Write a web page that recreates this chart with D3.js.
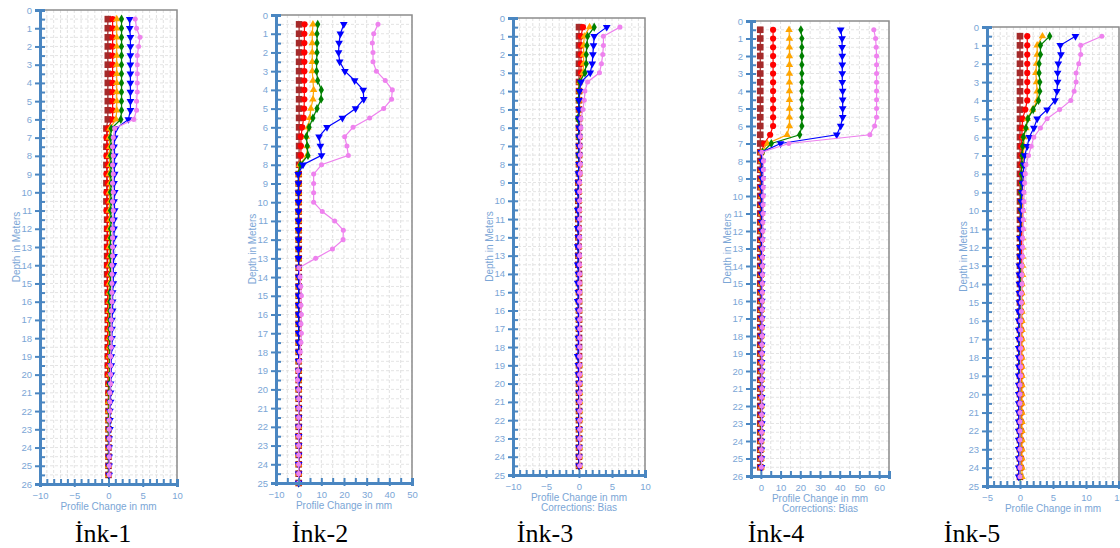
<!DOCTYPE html>
<meta charset="utf-8">
<script src="https://d3js.org/d3.v7.min.js"></script>
<style>
  body { margin: 0; background: #fff; }
  svg text { font-family: "Liberation Sans", Arial, sans-serif; }
</style>
<div id="my_dataviz"></div>
<script>

// depth of each reading (m)
var depths = [0.5,1,1.5,2,2.5,3,3.5,4,4.5,5,5.5,6,6.5,7,7.5,8,8.5,9,9.5,10,10.5,11,11.5,12,12.5,13,13.5,14,14.5,15,15.5,16,16.5,17,17.5,18,18.5,19,19.5,20,20.5,21,21.5,22,22.5,23,23.5,24,24.5,25,25.5];

// Ink-1 profile change (mm)
var ink1Brown = [-0.1,-0.1,-0.1,-0.1,-0.1,-0.1,-0.1,-0.1,-0.1,-0.1,-0.1,-0.1,
  -0.3,-0.2,-0.3,-0.2,-0.3,-0.2,-0.3,-0.2,-0.3,-0.2,-0.2,-0.2,-0.2,-0.2,-0.2,-0.2,-0.2,-0.2,
  -0.1,-0.1,-0.1,-0.1,-0.1,-0.1,-0.1,-0.1,-0.1,-0.1, 0,0,0,0,0,0,0,0,0,0,0];
var ink1Red = [0.6,0.6,0.6,0.6,0.6,0.6,0.6,0.6,0.6,0.6,0.6,0.6,
  -0.1,-0.3,-0.1,-0.3,-0.1,-0.3,-0.1,-0.3,-0.1,-0.3,-0.1,-0.2,-0.1,-0.2,-0.1,-0.2,-0.1,-0.2,
  -0.1,-0.1,-0.1,-0.1,-0.1,-0.1,-0.1,-0.1,-0.1,-0.1, 0,0,0,0,0,0,0,0,0,0,0];
var ink1Orange = [1.2,1.2,1.2,1.2,1.2,1.2,1.2,1.2,1.2,1.2,1.2,1.1,
  0.2,0.1,0.2,0.1,0.2,0.1,0.2,0.1,0.2,0.1,0.2,0.1,0.2,0.1,0.2,0.1,0.2,0.1,
  0.1,0.1,0.1,0.1,0.1,0.1,0.1,0.1,0.1,0.1, 0.1,0.1,0,0,0,0,0,0,0,0,0];
var ink1Green = [1.9,1.9,1.9,1.9,1.9,1.9,1.9,1.9,1.9,1.9,1.9,1.8,
  0.4,0.3,0.4,0.3,0.4,0.3,0.4,0.3,0.4,0.3,0.4,0.3,0.3,0.3,0.3,0.3,0.3,0.3,
  0.2,0.2,0.2,0.2,0.2,0.2,0.2,0.2,0.2,0.2, 0.1,0.1,0.1,0.1,0,0,0,0,0,0,0];
var ink1Blue = [3.1,3.1,3.2,3.2,3.2,3.2,3.2,3.2,3.2,3.2,3.2,2.9,
  1.1,0.9,0.8,0.9,0.8,0.9,0.8,0.9,0.8,0.9,0.8,0.8,0.8,0.7,0.8,0.7,0.7,0.7,
  0.6,0.6,0.6,0.5,0.5,0.5,0.5,0.4,0.4,0.4, 0.3,0.3,0.3,0.2,0.2,0.2,0.1,0.1,0.1,0.1,0.1];
var ink1Violet = [3.9,4.1,4.6,4.4,4.2,4.2,4.2,4.2,4.2,4.1,4.1,3.7,
  0.9,0.7,0.6,0.7,0.6,0.7,0.6,0.7,0.6,0.7,0.6,0.6,0.6,0.6,0.6,0.5,0.5,0.5,
  0.5,0.5,0.4,0.4,0.4,0.4,0.4,0.3,0.3,0.3, 0.3,0.2,0.2,0.2,0.1,0.1,0.1,0.1,0.1,0.1,0.1];

// Ink-2
var ink2Brown = [0.2,0.2,0.2,0.2,0.2,0.2,0.2,0.2,0.2,0.2,0.2,0.2,0.2,0.2,0.2,0.2,
  0,0,0,0,0,0,0,0,0,0, 0,0,0,0,0,0,0,0,0,0, 0,0,0,0,0,0,0,0,0,0, 0,0,0,0];
var ink2Red = [2.6,2.5,2.5,2.5,2.5,2.5,2.5,2.5,2.5,2.4,2.2,1.6,1.0,1.0,1.0,0.5,
  0.1,0.1,0.1,0.1,0.1,0.1,0.1,0.1,0.1,0.1, 0.1,0.1,0.1,0.1,0.1,0.1,0.1,0.1,0.1,0.1,
  0.1,0.1,0.1,0.1,0.1,0.1,0.1,0.1,0.1,0.1, 0.1,0.1,0.1,0.1];
var ink2Orange = [6.3,6.0,6.0,6.0,6.0,6.0,6.3,6.6,6.3,5.4,4.9,4.1,3.4,3.7,3.7,0.4,
  0,0,0,0,0,0,0,0,0,0, 0,0,0,0,0,0,0,0,0,0, 0,0,0,0,0,0,0,0,0,0, 0,0,0,0];
var ink2Green = [8.4,8.1,8.1,8.1,7.9,7.9,8.4,10.0,9.9,8.1,6.3,4.6,3.4,3.8,4.1,0.7,
  -0.1,-0.1,-0.1,-0.1,-0.1,-0.1,-0.1,-0.1,-0.1,-0.1, 0,0,0,0,0,0,0,0,0,0,
  0,0,0,0,0,0,0,0,0,0, 0,0,0,0];
var ink2Blue = [19.9,18.4,17.8,17.6,18.1,20.4,24.7,28.5,28.7,25.1,19.3,12.5,9.0,9.6,10.1,1.9,
  -0.2,-0.1,-0.1,-0.1,-0.1,-0.1,-0.1,-0.1,-0.1,-0.1, 0,0,0,0,0,0,0,0,0,0,
  0,0,0,0,0,0,0,0,0,0, 0,0,0,0];
var ink2Violet = [35.0,33.1,32.5,32.8,32.8,34.3,38.2,41.3,41.0,37.5,31.3,24.0,20.3,21.3,21.9,10.1,
  6.6,6.6,6.6,6.6,10.4,15.9,19.7,19.6,14.9,7.5,0.1,
  0.6,0.9,1.2,1.0,1.2,1.0,1.2,1.0,0.7,0.3, -0.3,-0.5,0,0,0,0,0,0,0,0, 0,0,0];

// Ink-3
var ink3Brown = [0,0,0,0,0,0,0, 0,0,0,0,0,0,0,0,0,0, -0.1,-0.1,-0.1,-0.1,-0.1,-0.1,-0.1,-0.1,-0.1,-0.1,
  0,0,0,0,0,0,0,0,0,0, 0,0,0,0,0,0,0,0,0,0,0,0];
var ink3Red = [0.6,0.3,0.3,0.3,0.3,0.3,0.1, 0,0,0,0,0,0,0,0,0,0, 0,0,0,0,0,0,0,0,0,0,
  0,0,0,0,0,0,0,0,0,0, 0,0,0,0,0,0,0,0,0,0,0,0];
var ink3Orange = [1.6,0.8,0.7,0.7,0.7,0.6,0.1, 0.1,0.1,0.1,0.1,0.1,0.1,0.1,0.1,0.1,0.1, 0,0,0,0,0,0,0,0,0,0,
  0,0,0,0,0,0,0,0,0,0, 0.1,0.1,0.1,0.1,0.1,0.1,0.1,0.1,0.1,0.1,0.1,0.1];
var ink3Green = [2.3,1.3,1.2,1.1,1.1,0.9,0.1, 0,-0.1,0,-0.2,0,-0.1,0,-0.1,0,-0.1, 0,-0.1,0,-0.1,0,-0.1,0,-0.1,0,-0.1,
  0,0,0,0,0,0,0,0,0,0, 0,0,0,0,0,0,0,0,0,0,0,0];
var ink3Blue = [4.2,2.3,2.2,2.1,2.0,1.7,0.3, 0.1,0,0,0,0,0,0,0,0,-0.1, -0.1,-0.2,-0.1,-0.2,-0.1,-0.2,-0.1,-0.2,-0.1,-0.2,
  -0.1,-0.2,-0.1,-0.2,-0.1,-0.1,-0.1,-0.1,-0.1,-0.2, -0.1,-0.1,0,0,0,0,0,0,0,0,0,0];
var ink3Violet = [6.2,3.7,3.7,3.6,3.4,3.1,1.3, 0.9,0.8,0.6,0.3,0.3,0.2,0.2,0.2,0.2,0.2, 0.1,0.1,0.1,0.1,0.1,0.1,0.1,0.1,0.1,0.1,
  0.1,0.1,0.1,0.1,0.1,0.1,0.1,0.1,0.1,0.1, 0.1,0.1,0.1,0.1,0.1,0.1,0.1,0.1,0.1,0.1,0.1,0.1];

// Ink-4
var ink4Brown = [-0.3,-0.3,-0.3,-0.3,-0.3,-0.3,-0.3,-0.3,-0.3,-0.3,-0.3,-0.3,-0.3,-0.3,-0.3,
  -0.3,-0.3,-0.3,-0.3,-0.3,-0.3,-0.3,-0.3,-0.3,-0.3,-0.3,-0.3,-0.3,-0.3,-0.3,-0.3,-0.3,-0.3,
  -0.3,-0.3,-0.3,-0.3,-0.3,-0.3,-0.3,-0.3,-0.3,-0.3,-0.3,-0.3,-0.3,-0.3,-0.3,-0.3,-0.3,-0.3];
var ink4Red = [6.2,6.2,6.2,6.2,6.2,6.2,6.2,6.2,6.2,6.2,6.2,6.2, 4.7,1.7,0.3,
  0.2,0.2,0.2,0.2,0.2,0.2,0.2,0.2,0.2,0.2, 0.2,0.2,0.2,0.2,0.2,0.2,0.2,0.2,0.2,0.2,
  0.2,0.2,0.2,0.2,0.2,0.2,0.2,0.2,0.2,0.2, 0.2,0.2,0.2,0.2,0.2,0.2];
var ink4Orange = [14.3,14.5,14.5,14.5,14.5,14.5,14.5,14.5,14.5,14.5,14.5,14.5, 13.3,3.3,0.3,
  0.4,0.4,0.4,0.4,0.4,0.4,0.4,0.4,0.4,0.4, 0.3,0.3,0.3,0.3,0.3,0.3,0.3,0.3,0.3,0.3,
  0.3,0.3,0.3,0.3,0.3,0.3,0.3,0.3,0.3,0.3, 0.2,0.2,0.2,0.2,0.2,0.2];
var ink4Green = [20.3,20.8,20.8,20.8,20.8,20.8,20.8,20.8,20.8,20.8,20.8,20.8, 19.7,5.3,0.8,
  0.4,0.4,0.4,0.4,0.4,0.4,0.4,0.4,0.4,0.4, 0.3,0.3,0.3,0.3,0.3,0.3,0.3,0.3,0.3,0.3,
  0.3,0.3,0.3,0.3,0.3,0.3,0.3,0.3,0.3,0.3, 0.2,0.2,0.2,0.2,0.2,0.2];
var ink4Blue = [40.5,41.2,41.2,41.3,41.3,41.3,41.3,41.5,41.5,41.5,41.5,40.5, 38.5,10.0,0.3,
  0.6,0.5,0.6,0.5,0.6,0.5,0.6,0.5,0.6,0.5, 0.5,0.4,0.5,0.4,0.5,0.4,0.5,0.4,0.5,0.4,
  0.4,0.4,0.4,0.4,0.4,0.4,0.4,0.4,0.4,0.4, 0.5,0.3,0.3,0.3,0.3,0.3];
var ink4Violet = [57.3,58.2,58.5,58.7,58.7,58.7,58.7,58.7,58.7,58.7,58.7,57.7, 55.3,14.2,0.5,
  1.3,1.3,1.3,1.2,1.2,1.1,1.1,1.0,1.0,0.9, 0.9,0.8,0.8,0.8,0.7,0.7,0.7,0.6,0.6,0.6,
  0.6,0.5,0.5,0.5,0.5,0.5,0.5,0.4,0.4,0.4, 0.4,0.4,0.3,0.3,0.3,0.3];

// Ink-5
var ink5Brown = [0,0,0,0,0,0,0,0,0,0,0,0,0, 0,0,0,0,0,0,0,0,0,0,0,0,
  0,0,0,0,0,0,0,0,0,0,0,0, 0,0,0,0,0,0,0,0,0,0,0,0];
var ink5Red = [1.1,1.1,1.1,1.1,1.1,1.1,1.1,1.1,0.8,0.4,0.3,0.3,0.2,
  0.2,0.2,0.2,0.2,0.2,0.2,0.2,0.2,0.2,0.2,0.2, 0.2,0.2,0.2,0.2,0.2,0.2,0.2,0.2,0.2,0.2,0.2,0.2,
  0.2,0.2,0.2,0.2,0.2,0.2,0.2,0.2,0.2,0.2,0.2,0.2];
var ink5Orange = [3.4,2.6,2.6,2.5,2.4,2.5,2.6,2.6,1.9,1.1,0.9,0.6,0.6,0.5,0.5,0.5,
  0.4,0.4,0.4,0.4,0.4,0.4,0.4,0.4,0.4,0.4,0.4, 0.3,0.3,0.3,0.3,0.3,0.3,0.3,0.3,0.3,0.3,0.3,
  0.3,0.3,0.3,0.3,0.3,0.3,0.3,0.3,0.3,0.3,0.3];
var ink5Green = [4.5,3.1,3.1,2.9,2.9,3.0,3.0,2.8,2.0,1.2,0.9,0.5,0.4,0.3,0.3,0.2,
  0.2,0.1,0.1,0.1,0.1,0.1,0,0,0,0,0, 0,0,0,0,0,0,0,0,0,0,0,
  0,0,0,0,0,0,0,0,0,0,0];
var ink5Blue = [8.4,6.1,6.2,5.8,5.7,5.7,5.6,5.3,4.1,2.6,2.1,1.4,1.1,0.7,0.6,0.5,
  0.4,0.3,0.2,0.2,0.1,0.1,0,0,0,-0.1,-0.1, -0.1,-0.1,-0.1,-0.2,-0.2,-0.2,-0.2,-0.2,-0.2,-0.2,-0.2,
  -0.2,-0.2,-0.2,-0.2,-0.2,-0.2,-0.2,-0.2,-0.2,-0.2,-0.2];
var ink5Violet = [12.4,9.2,9.2,8.9,8.5,8.5,8.2,7.7,6.0,4.1,3.1,2.1,1.7,1.3,0.9,0.8,
  0.7,0.6,0.6,0.5,0.5,0.5,0.4,0.4,0.4,0.3,0.3, 0.3,0.2,0.2,0.2,0.1,0.1,0.1,0.1,0.1,0.1,0.1,
  0,0,0,0,0,0,0,0,0,0,0];

// tick labels of the x axes
var xTicks1 = [-10,-5,0,5,10];
var xTicks2 = [-10,0,10,20,30,40,50];
var xTicks3 = [-10,-5,0,5,10];
var xTicks4 = [0,10,20,30,40,50,60];
var xTicks5 = [-5,0,5,10,15];

var width = 1120, height = 548;

var svg = d3.select("#my_dataviz")
  .append("svg")
    .attr("width", width)
    .attr("height", height);

// same series order in every panel
var styles = [
  {color: "#a52a2a", symbol: d3.symbolSquare, size: 44, rot: 0},
  {color: "#ff0000", symbol: d3.symbolCircle, size: 30, rot: 0},
  {color: "#ffa500", symbol: d3.symbolTriangle, size: 24, rot: 0},
  {color: "#008000", symbol: d3.symbolDiamond, size: 24, rot: 0},
  {color: "#0000ff", symbol: d3.symbolTriangle, size: 26, rot: 180},
  {color: "#ee82ee", symbol: d3.symbolCircle, size: 20, rot: 0}
];

var axisColor = "#4a86c1",
    labelColor = "#7ba6d6";

var panels = [
  {title: "İnk-1", titleX: 103, series: [ink1Brown, ink1Red, ink1Orange, ink1Green, ink1Blue, ink1Violet],
   xDomain: [-10, 10], xTicks: xTicks1, xMinor: 1, yMax: 26,
   left: 40, right: 177, top: 10, bottom: 484, xTitle: ["Profile Change in mm"]},
  {title: "İnk-2", titleX: 320, series: [ink2Brown, ink2Red, ink2Orange, ink2Green, ink2Blue, ink2Violet],
   xDomain: [-10, 50], xTicks: xTicks2, xMinor: 5, yMax: 25,
   left: 276, right: 412, top: 15, bottom: 483, xTitle: ["Profile Change in mm"]},
  {title: "İnk-3", titleX: 545, series: [ink3Brown, ink3Red, ink3Orange, ink3Green, ink3Blue, ink3Violet],
   xDomain: [-10, 10], xTicks: xTicks3, xMinor: 1, yMax: 25,
   left: 513, right: 645, top: 18, bottom: 475, xTitle: ["Profile Change in mm", "Corrections: Bias"]},
  {title: "İnk-4", titleX: 776, series: [ink4Brown, ink4Red, ink4Orange, ink4Green, ink4Blue, ink4Violet],
   xDomain: [-5, 65], xTicks: xTicks4, xMinor: 5, yMax: 26,
   left: 751, right: 889, top: 21, bottom: 476, xTitle: ["Profile Change in mm", "Corrections: Bias"]},
  {title: "İnk-5", titleX: 972, series: [ink5Brown, ink5Red, ink5Orange, ink5Green, ink5Blue, ink5Violet],
   xDomain: [-5, 15], xTicks: xTicks5, xMinor: 1, yMax: 25,
   left: 987, right: 1119, top: 27, bottom: 486, xTitle: ["Profile Change in mm"]}
];

function drawPanel(p) {
  var x = d3.scaleLinear().domain(p.xDomain).range([p.left, p.right]);
  var y = d3.scaleLinear().domain([0, p.yMax]).range([p.top, p.bottom]);
  var g = svg.append("g");

  // grid
  var minorX = d3.range(p.xDomain[0], p.xDomain[1] + 1e-9, p.xMinor);
  var halfY = d3.range(0.5, p.yMax, 0.5);
  g.append("g").selectAll("line").data(minorX).join("line")
      .attr("x1", d => x(d)).attr("x2", d => x(d))
      .attr("y1", p.top).attr("y2", p.bottom)
      .attr("stroke", "#d9d9d9").attr("stroke-width", 0.8)
      .attr("stroke-dasharray", "3,2");
  g.append("g").selectAll("line").data(halfY).join("line")
      .attr("x1", p.left).attr("x2", p.right)
      .attr("y1", d => y(d)).attr("y2", d => y(d))
      .attr("stroke", "#dddddd").attr("stroke-width", 0.8)
      .attr("stroke-dasharray", "3,2");

  // frame top and right
  g.append("path")
      .attr("d", "M" + p.left + "," + p.top + "H" + p.right + "V" + p.bottom)
      .attr("fill", "none").attr("stroke", "#8c8c8c").attr("stroke-width", 1.5);

  // series
  p.series.forEach(function(vals, k) {
    var st = styles[k];
    var pts = vals.map(function(v, i) { return [v, depths[i]]; });
    g.append("path")
        .datum(pts)
        .attr("fill", "none")
        .attr("stroke", st.color)
        .attr("stroke-width", 1.2)
        .attr("d", d3.line().x(d => x(d[0])).y(d => y(d[1])));
    g.append("g").selectAll("path").data(pts).join("path")
        .attr("transform", d => "translate(" + x(d[0]) + "," + y(d[1]) + ") rotate(" + st.rot + ")")
        .attr("d", d3.symbol().type(st.symbol).size(st.size))
        .attr("fill", st.color);
  });

  // y axis
  var yAx = g.append("g")
      .attr("transform", "translate(" + p.left + ",0)")
      .call(d3.axisLeft(y).tickValues(d3.range(0, p.yMax + 1)).tickSize(5).tickPadding(3));
  var yMin = g.append("g")
      .attr("transform", "translate(" + p.left + ",0)")
      .call(d3.axisRight(y).tickValues(d3.range(0, p.yMax + 0.1, 0.5)).tickSize(5).tickFormat(""));

  // x axis
  var xMin = g.append("g")
      .attr("transform", "translate(0," + p.bottom + ")")
      .call(d3.axisTop(x).tickValues(minorX).tickSize(5).tickFormat(""));
  var xAx = g.append("g")
      .attr("transform", "translate(0," + p.bottom + ")")
      .call(d3.axisBottom(x).tickValues(p.xTicks).tickSize(3).tickPadding(5));

  [yAx, yMin, xMin, xAx].forEach(function(a) {
    a.select(".domain").attr("stroke", axisColor).attr("stroke-width", 3);
    a.selectAll(".tick line").attr("stroke", axisColor).attr("stroke-width", 2);
    a.selectAll(".tick text").attr("fill", labelColor).style("font-size", "9.5px");
  });

  // axis titles
  g.append("text")
      .attr("transform", "translate(" + (p.left - 24) + "," + ((p.top + p.bottom) / 2) + ") rotate(-90)")
      .attr("text-anchor", "middle")
      .attr("dy", "0.35em")
      .attr("fill", labelColor)
      .style("font-size", "10px")
      .text("Depth in Meters");
  p.xTitle.forEach(function(t, i) {
    g.append("text")
        .attr("x", (p.left + p.right) / 2)
        .attr("y", p.bottom + 22 + i * 10)
        .attr("dy", "0.35em")
        .attr("text-anchor", "middle")
        .attr("fill", labelColor)
        .style("font-size", "10px")
        .text(t);
  });

  // panel name
  svg.append("text")
      .attr("x", p.titleX)
      .attr("y", 542)
      .attr("text-anchor", "middle")
      .style("font-family", "'Liberation Serif', 'Times New Roman', serif")
      .style("font-size", "26px")
      .attr("fill", "#000")
      .text(p.title);
}

panels.forEach(drawPanel);

</script>
